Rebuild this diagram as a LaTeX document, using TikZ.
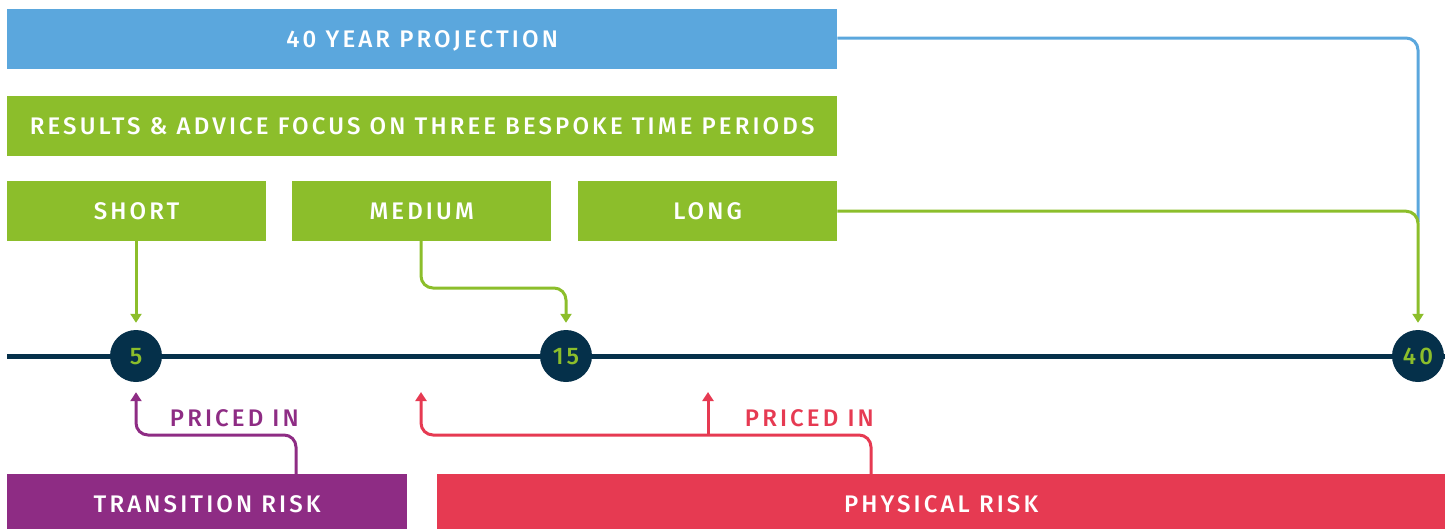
\documentclass[tikz,border=0pt]{standalone}
\usepackage{fontspec}
\setmainfont{Fira Sans}[UprightFont=* Medium, LetterSpace=13]
\usetikzlibrary{arrows.meta}
\definecolor{cblue}{HTML}{5BA7DD}
\definecolor{cgreen}{HTML}{8CBE2B}
\definecolor{cnavy}{HTML}{05304A}
\definecolor{cpurple}{HTML}{8E2C84}
\definecolor{cred}{HTML}{E63A52}
\tikzset{
  bar/.style={fill=#1, text=white, inner sep=0pt, anchor=north west, text height=16.5pt, text depth=0pt, font=\fontsize{24}{28}\selectfont},
  tick/.style={circle, fill=cnavy, minimum size=52pt, inner sep=0pt, text=cgreen, text height=16.5pt, text depth=0pt, font=\fontsize{24}{28}\selectfont},
  conn/.style={draw=#1, line width=3pt, rounded corners=12pt, -{Triangle[width=11pt,length=9pt]}},
  plain/.style={draw=#1, line width=3pt, rounded corners=12pt},
  lbl/.style={text=#1, font=\fontsize{24}{28}\selectfont, inner sep=0pt}
}
\begin{document}
\begin{tikzpicture}[x=1pt,y=-1pt]
\useasboundingbox (0,0) rectangle (1452,528);
% boxes
\node[bar=cblue, minimum width=830pt, minimum height=60pt] (proj) at (7,9) {40 YEAR PROJECTION};
\node[bar=cgreen, minimum width=830pt, minimum height=60pt] (res) at (7,96) {RESULTS \& ADVICE FOCUS ON THREE BESPOKE TIME PERIODS};
\node[bar=cgreen, minimum width=259pt, minimum height=60pt] (short) at (7,181) {SHORT};
\node[bar=cgreen, minimum width=259pt, minimum height=60pt] (medium) at (292,181) {MEDIUM};
\node[bar=cgreen, minimum width=259pt, minimum height=60pt] (long) at (578,181) {LONG};
\node[bar=cpurple, minimum width=400pt, minimum height=60pt] (trans) at (7,474) {TRANSITION RISK};
\node[bar=cred, minimum width=1008pt, minimum height=60pt] (phys) at (437,474) {PHYSICAL RISK};
% timeline
\coordinate (tl0) at (7,356);
\coordinate (tl1) at (1445,356);
\draw[cnavy, line width=5pt] (tl0) -- (tl1);
\node[tick] (t5) at (136,356) {5};
\node[tick] (t15) at (566,356) {15};
\node[tick] (t40) at (1418,356) {40};
% green connectors
\draw[conn=cgreen] (short.south -| t5) -- ([yshift=7pt]t5.north);
\draw[conn=cgreen] (421,241) |- (566,288) -- ([yshift=7pt]t15.north);
\draw[plain=cblue] (proj.east |- 0,38) -| (1418,222);
\draw[conn=cgreen] (long.east) -| ([yshift=7pt]t40.north);
% purple
\coordinate (pbr) at (296,435);
\draw[conn=cpurple] (trans.north -| pbr) |- (136,435) -- ([yshift=-10pt]t5.south);
\node[lbl=cpurple, anchor=base east] (pl1) at (299,426) {PRICED IN};
% red
\coordinate (rbr) at (871,435);
\coordinate (rtip1) at (421,392);
\coordinate (rtip2) at (708,392);
\draw[conn=cred] (phys.north -| rbr) |- (421,435) -- (rtip1);
\draw[conn=cred, rounded corners=0pt] (708,435) -- (rtip2);
\node[lbl=cred, anchor=base east] (pl2) at (874,426) {PRICED IN};
\end{tikzpicture}
\end{document}
